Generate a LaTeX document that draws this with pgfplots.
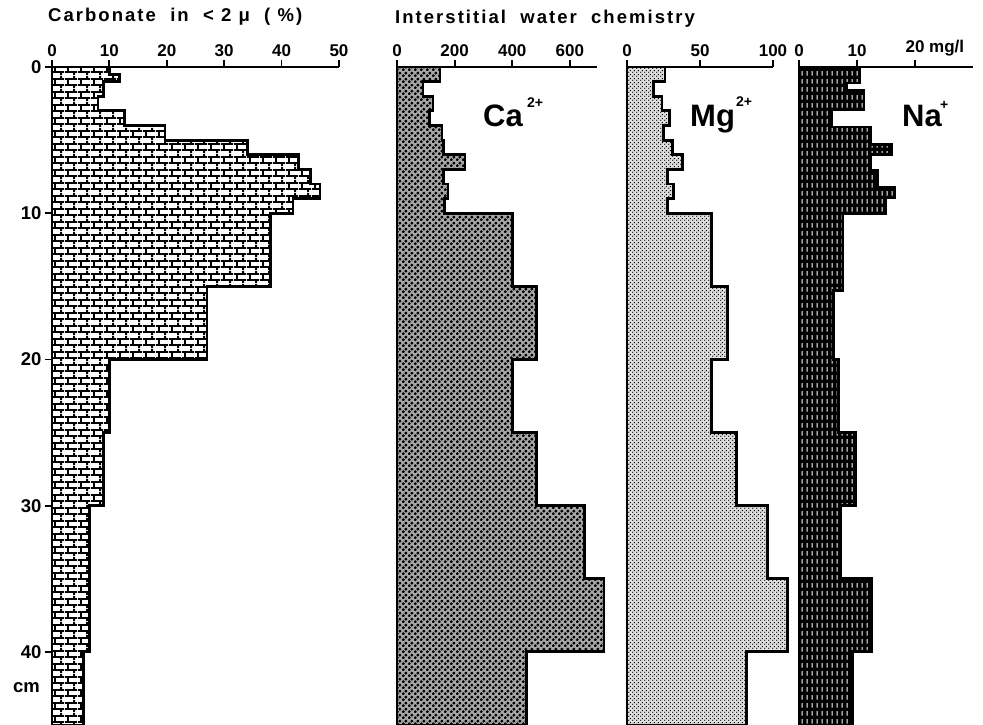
\documentclass[border=0pt]{standalone}
\usepackage{fontspec}
\setmainfont{Liberation Sans}
\usepackage{pgfplots}
\pgfplotsset{compat=1.18}
\usetikzlibrary{patterns}

% fill patterns of the four columns
\pgfdeclarepatternformonly{bricks13}{\pgfqpoint{0pt}{0pt}}{\pgfqpoint{13pt}{13pt}}{\pgfqpoint{13pt}{13pt}}{
  \pgfsetlinewidth{2pt}
  \pgfpathmoveto{\pgfqpoint{0pt}{3.25pt}}\pgfpathlineto{\pgfqpoint{13pt}{3.25pt}}
  \pgfpathmoveto{\pgfqpoint{0pt}{9.75pt}}\pgfpathlineto{\pgfqpoint{13pt}{9.75pt}}
  \pgfpathmoveto{\pgfqpoint{3.25pt}{3.25pt}}\pgfpathlineto{\pgfqpoint{3.25pt}{9.75pt}}
  \pgfpathmoveto{\pgfqpoint{9.75pt}{9.75pt}}\pgfpathlineto{\pgfqpoint{9.75pt}{13pt}}
  \pgfpathmoveto{\pgfqpoint{9.75pt}{0pt}}\pgfpathlineto{\pgfqpoint{9.75pt}{3.25pt}}
  \pgfusepath{stroke}}
\pgfdeclarepatternformonly{cadots}{\pgfqpoint{0pt}{0pt}}{\pgfqpoint{6pt}{6pt}}{\pgfqpoint{6pt}{6pt}}{
  \pgfpathcircle{\pgfqpoint{1.5pt}{1.5pt}}{1.85pt}
  \pgfpathcircle{\pgfqpoint{4.5pt}{4.5pt}}{1.85pt}
  \pgfusepath{fill}}
\pgfdeclarepatternformonly{mgdots}{\pgfqpoint{0pt}{0pt}}{\pgfqpoint{4pt}{4pt}}{\pgfqpoint{4pt}{4pt}}{
  \pgfpathcircle{\pgfqpoint{1pt}{1pt}}{0.85pt}
  \pgfpathcircle{\pgfqpoint{3pt}{3pt}}{0.85pt}
  \pgfusepath{fill}}
\pgfdeclarepatternformonly{nadash}{\pgfqpoint{0pt}{0pt}}{\pgfqpoint{5pt}{8pt}}{\pgfqpoint{5pt}{8pt}}{
  \pgfpathrectangle{\pgfqpoint{1.9pt}{1.5pt}}{\pgfqpoint{1.3pt}{5pt}}
  \pgfusepath{fill}}

% value, top of the layer (cm)
\pgfplotstableread{
v d
0 0
10 0
11.8 0.5
9 1
8 2
12.7 3
19.7 4
34 5
43 6
45 7
46.7 8
42 9
38 10
27 15
10 20
9 25
6.5 30
5.5 40
5.5 45
0 45
0 0
}\carb
\pgfplotstableread{
v d
0 0
149 0
90 1
125 2
112 3
156 4
160 5
236 6
160 7
177 8
166 9
400 10
485 15
400 20
485 25
652 30
718 35
450 40
450 45
0 45
0 0
}\calc
\pgfplotstableread{
v d
0 0
26 0
18 1
24 2
29 3
25 4
31 5
38 6
28 7
32 8
28 9
58 10
69 15
58 20
75 25
96 30
110 35
82 40
82 45
0 45
0 0
}\magn
\pgfplotstableread{
v d
0 0
10.5 0
8.2 1.1
11.2 1.6
5.7 2.9
12.4 4.1
15.9 5.3
12.4 6.0
13.6 7.1
16.4 8.2
15.0 8.9
7.6 10
5.9 15.3
6.8 20
9.7 25
7.1 30
12.6 35
9.2 40
9.2 45
0 45
0 0
}\sod

\pgfplotsset{
  column/.style={
    scale only axis, height=658pt,
    anchor=south west,
    y dir=reverse, ymin=0, ymax=45,
    enlargelimits=false, clip=false,
    axis x line*=top, x axis line style={-, line width=2pt},
    tick align=outside, major tick length=7pt,
    every tick/.style={black, line width=1.8pt},
    /pgf/number format/assume math mode=true,
    xticklabel style={font=\bfseries\fontsize{17}{17}\selectfont},
    yticklabel style={font=\bfseries\fontsize{18.5}{18.5}\selectfont},
  },
  profile/.style={draw=black, line width=2.8pt, line join=miter, const plot mark right},
}

\begin{document}
\begin{tikzpicture}
\begin{axis}[column, at={(52pt,0pt)}, width=287pt,
  xmin=0, xmax=50, xtick={0,10,20,30,40,50},
  axis y line*=left, y axis line style={-, line width=2pt},
  ytick={0,10,20,30,40}]
\addplot[profile, pattern=bricks13] table[x=v, y=d] {\carb} -- cycle;
\end{axis}

\begin{axis}[column, at={(397pt,0pt)}, width=200pt,
  xmin=0, xmax=694, xtick={0,200,400,600}, axis y line=none]
\addplot[profile, preaction={fill=black!35}, pattern=cadots] table[x=v, y=d] {\calc} -- cycle;
\end{axis}

\begin{axis}[column, at={(627pt,0pt)}, width=146pt,
  xmin=0, xmax=100, xtick={0,50,100}, axis y line=none]
\addplot[profile, preaction={fill=black!12}, pattern=mgdots] table[x=v, y=d] {\magn} -- cycle;
\end{axis}

\begin{axis}[column, at={(799pt,0pt)}, width=174pt,
  xmin=0, xmax=30, xtick={0,10,20}, xticklabels={0,10,{20\rlap{ mg/l}}},
  axis y line=none]
\addplot[profile, preaction={fill=black}, pattern=nadash, pattern color=white] table[x=v, y=d] {\sod} -- cycle;
\end{axis}

\begin{scope}[every node/.style={inner sep=0pt, anchor=base west}]
\node[font=\bfseries\fontsize{18.5}{18.5}\selectfont\addfontfeatures{LetterSpace=11}] at (48pt,703pt) {Carbonate\ \ in\ \ < 2 μ\ \ ( \%)};
\node[font=\bfseries\fontsize{18.5}{18.5}\selectfont\addfontfeatures{LetterSpace=11}] at (395pt,701pt) {Interstitial\ \ water\ \ chemistry};
\node[anchor=base east, font=\bfseries\fontsize{18.5}{18.5}\selectfont] at (40pt,32pt) {cm};
\node[font=\bfseries\fontsize{31}{31}\selectfont] at (483pt,598pt) {Ca};
\node[font=\bfseries\fontsize{14}{14}\selectfont] at (527pt,617pt) {2+};
\node[font=\bfseries\fontsize{31}{31}\selectfont] at (690pt,598pt) {Mg};
\node[font=\bfseries\fontsize{14}{14}\selectfont] at (736pt,618pt) {2+};
\node[font=\bfseries\fontsize{31}{31}\selectfont] at (902pt,598pt) {Na};
\node[font=\bfseries\fontsize{14}{14}\selectfont] at (940pt,615pt) {+};
\end{scope}

\pgfresetboundingbox
\useasboundingbox (0pt,0pt) rectangle (983pt,725pt);
\end{tikzpicture}
\end{document}
